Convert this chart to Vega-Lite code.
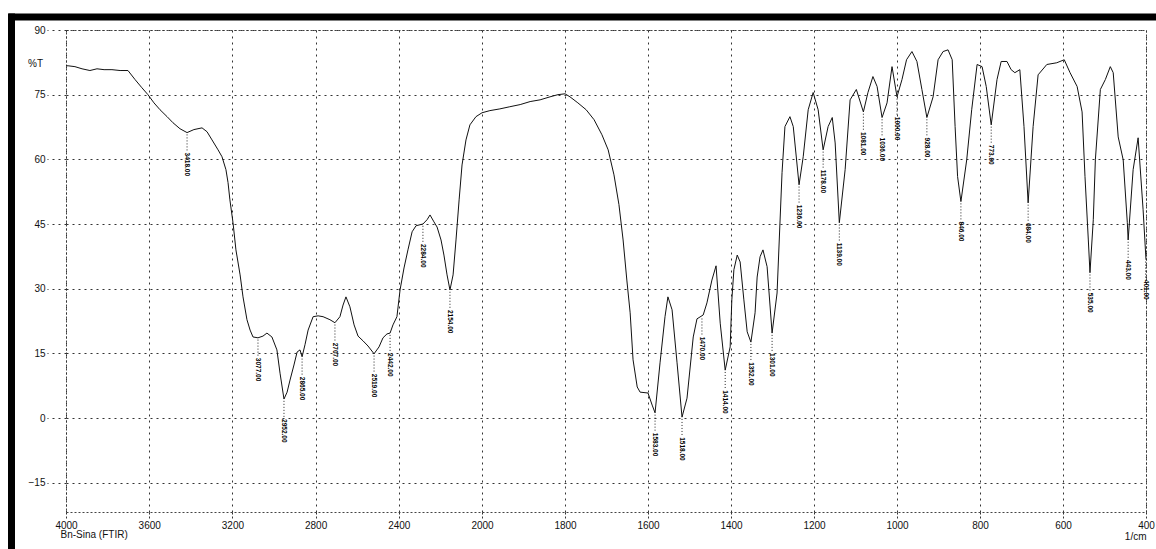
{
  "$schema": "https://vega.github.io/schema/vega-lite/v6.json",
  "width": 1080,
  "height": 482,
  "autosize": {"type": "none"},
  "padding": {"left": 66, "top": 30, "right": 10, "bottom": 37},
  "background": "white",
  "config": {
    "font": "Liberation Sans",
    "view": {"stroke": "#444", "strokeDash": [2, 2], "strokeWidth": 1}
  },
  "datasets": {
    "curve": [
      {"wn": 4000, "t": 81.7}, {"wn": 3990, "t": 81.7}, {"wn": 3957, "t": 81.5}, {"wn": 3923, "t": 81.0}, {"wn": 3885, "t": 80.6},
      {"wn": 3851, "t": 81.0}, {"wn": 3817, "t": 80.8}, {"wn": 3779, "t": 80.8}, {"wn": 3740, "t": 80.6}, {"wn": 3702, "t": 80.6},
      {"wn": 3668, "t": 78.5}, {"wn": 3635, "t": 76.6}, {"wn": 3606, "t": 75.0}, {"wn": 3577, "t": 73.1}, {"wn": 3548, "t": 71.5},
      {"wn": 3514, "t": 69.9}, {"wn": 3486, "t": 68.5}, {"wn": 3452, "t": 67.1}, {"wn": 3418, "t": 66.2}, {"wn": 3385, "t": 66.9},
      {"wn": 3346, "t": 67.3}, {"wn": 3322, "t": 66.4}, {"wn": 3298, "t": 64.5}, {"wn": 3269, "t": 62.2}, {"wn": 3250, "t": 60.6},
      {"wn": 3231, "t": 57.6}, {"wn": 3221, "t": 54.6}, {"wn": 3212, "t": 50.6}, {"wn": 3197, "t": 45.3}, {"wn": 3183, "t": 39.0},
      {"wn": 3163, "t": 33.2}, {"wn": 3149, "t": 28.1}, {"wn": 3130, "t": 22.8}, {"wn": 3115, "t": 20.4}, {"wn": 3101, "t": 18.8},
      {"wn": 3077, "t": 18.6}, {"wn": 3053, "t": 19.0}, {"wn": 3034, "t": 19.7}, {"wn": 3010, "t": 18.8}, {"wn": 2986, "t": 15.8},
      {"wn": 2971, "t": 10.4}, {"wn": 2952, "t": 4.4}, {"wn": 2937, "t": 6.0}, {"wn": 2923, "t": 8.8}, {"wn": 2904, "t": 12.3},
      {"wn": 2889, "t": 15.3}, {"wn": 2875, "t": 15.8}, {"wn": 2865, "t": 14.2}, {"wn": 2851, "t": 17.0}, {"wn": 2836, "t": 20.4},
      {"wn": 2812, "t": 23.5}, {"wn": 2788, "t": 23.7}, {"wn": 2764, "t": 23.5}, {"wn": 2731, "t": 22.8}, {"wn": 2707, "t": 22.1},
      {"wn": 2683, "t": 23.5}, {"wn": 2668, "t": 26.2}, {"wn": 2654, "t": 28.1}, {"wn": 2635, "t": 25.8}, {"wn": 2615, "t": 21.6},
      {"wn": 2596, "t": 19.0}, {"wn": 2572, "t": 17.9}, {"wn": 2548, "t": 16.7}, {"wn": 2519, "t": 14.9}, {"wn": 2495, "t": 16.5},
      {"wn": 2476, "t": 18.6}, {"wn": 2457, "t": 19.5}, {"wn": 2442, "t": 19.7}, {"wn": 2428, "t": 21.6}, {"wn": 2409, "t": 23.5},
      {"wn": 2394, "t": 29.7}, {"wn": 2375, "t": 34.8}, {"wn": 2356, "t": 39.0}, {"wn": 2336, "t": 43.2}, {"wn": 2317, "t": 44.6},
      {"wn": 2284, "t": 45.0}, {"wn": 2264, "t": 46.0}, {"wn": 2250, "t": 47.1}, {"wn": 2231, "t": 45.5}, {"wn": 2216, "t": 44.3},
      {"wn": 2197, "t": 41.3}, {"wn": 2183, "t": 37.8}, {"wn": 2168, "t": 33.2}, {"wn": 2154, "t": 29.7}, {"wn": 2139, "t": 33.2},
      {"wn": 2125, "t": 41.3}, {"wn": 2110, "t": 50.6}, {"wn": 2096, "t": 58.7}, {"wn": 2077, "t": 64.5}, {"wn": 2058, "t": 68.0},
      {"wn": 2029, "t": 69.9}, {"wn": 2000, "t": 70.8}, {"wn": 1981, "t": 71.3}, {"wn": 1957, "t": 71.7}, {"wn": 1933, "t": 72.2},
      {"wn": 1908, "t": 72.7}, {"wn": 1884, "t": 73.4}, {"wn": 1860, "t": 73.8}, {"wn": 1836, "t": 74.5}, {"wn": 1817, "t": 75.0},
      {"wn": 1800, "t": 75.2}, {"wn": 1788, "t": 74.5}, {"wn": 1769, "t": 73.1}, {"wn": 1749, "t": 71.5}, {"wn": 1730, "t": 69.2},
      {"wn": 1711, "t": 65.7}, {"wn": 1696, "t": 62.2}, {"wn": 1682, "t": 56.4}, {"wn": 1670, "t": 49.5}, {"wn": 1660, "t": 41.3},
      {"wn": 1651, "t": 32.0}, {"wn": 1643, "t": 24.4}, {"wn": 1636, "t": 13.5}, {"wn": 1626, "t": 7.2}, {"wn": 1619, "t": 6.0},
      {"wn": 1600, "t": 5.8}, {"wn": 1590, "t": 3.0}, {"wn": 1583, "t": 1.2}, {"wn": 1571, "t": 12.8}, {"wn": 1559, "t": 23.5},
      {"wn": 1552, "t": 28.1}, {"wn": 1542, "t": 25.1}, {"wn": 1530, "t": 12.8}, {"wn": 1518, "t": 0.2}, {"wn": 1506, "t": 4.6},
      {"wn": 1491, "t": 18.8}, {"wn": 1482, "t": 23.0}, {"wn": 1467, "t": 23.9}, {"wn": 1458, "t": 26.7}, {"wn": 1446, "t": 32.0},
      {"wn": 1436, "t": 35.3}, {"wn": 1426, "t": 22.0}, {"wn": 1414, "t": 11.1}, {"wn": 1402, "t": 16.5}, {"wn": 1398, "t": 27.4},
      {"wn": 1393, "t": 34.4}, {"wn": 1385, "t": 37.8}, {"wn": 1378, "t": 36.2}, {"wn": 1369, "t": 27.4}, {"wn": 1361, "t": 20.0},
      {"wn": 1352, "t": 17.6}, {"wn": 1342, "t": 24.4}, {"wn": 1337, "t": 32.7}, {"wn": 1330, "t": 37.4}, {"wn": 1323, "t": 39.0},
      {"wn": 1313, "t": 35.1}, {"wn": 1301, "t": 19.7}, {"wn": 1289, "t": 29.0}, {"wn": 1277, "t": 56.9}, {"wn": 1270, "t": 67.6},
      {"wn": 1258, "t": 69.9}, {"wn": 1250, "t": 67.6}, {"wn": 1236, "t": 54.1}, {"wn": 1226, "t": 60.6}, {"wn": 1214, "t": 71.5},
      {"wn": 1202, "t": 75.5}, {"wn": 1190, "t": 71.5}, {"wn": 1178, "t": 62.2}, {"wn": 1166, "t": 67.6}, {"wn": 1156, "t": 69.7},
      {"wn": 1149, "t": 63.8}, {"wn": 1139, "t": 45.3}, {"wn": 1125, "t": 57.6}, {"wn": 1113, "t": 73.8}, {"wn": 1098, "t": 76.2},
      {"wn": 1081, "t": 71.0}, {"wn": 1070, "t": 75.5}, {"wn": 1058, "t": 79.2}, {"wn": 1048, "t": 76.9}, {"wn": 1036, "t": 69.7},
      {"wn": 1024, "t": 73.1}, {"wn": 1012, "t": 81.5}, {"wn": 1000, "t": 74.5}, {"wn": 988, "t": 78.5}, {"wn": 977, "t": 83.1},
      {"wn": 964, "t": 85.0}, {"wn": 952, "t": 82.7}, {"wn": 940, "t": 76.2}, {"wn": 928, "t": 69.7}, {"wn": 913, "t": 74.5},
      {"wn": 901, "t": 83.1}, {"wn": 889, "t": 85.0}, {"wn": 877, "t": 85.4}, {"wn": 867, "t": 83.1}, {"wn": 860, "t": 67.6},
      {"wn": 854, "t": 56.0}, {"wn": 846, "t": 50.2}, {"wn": 832, "t": 59.9}, {"wn": 820, "t": 71.5}, {"wn": 807, "t": 82.0},
      {"wn": 795, "t": 81.5}, {"wn": 785, "t": 76.9}, {"wn": 773, "t": 68.0}, {"wn": 759, "t": 78.5}, {"wn": 749, "t": 82.7},
      {"wn": 735, "t": 82.7}, {"wn": 725, "t": 80.8}, {"wn": 716, "t": 80.1}, {"wn": 704, "t": 80.8}, {"wn": 694, "t": 67.6},
      {"wn": 684, "t": 49.9}, {"wn": 672, "t": 67.6}, {"wn": 660, "t": 79.6}, {"wn": 639, "t": 82.0}, {"wn": 615, "t": 82.4},
      {"wn": 597, "t": 83.1}, {"wn": 583, "t": 80.1}, {"wn": 566, "t": 76.9}, {"wn": 554, "t": 71.0}, {"wn": 547, "t": 56.0},
      {"wn": 539, "t": 41.3}, {"wn": 535, "t": 33.7}, {"wn": 527, "t": 46.0}, {"wn": 522, "t": 59.9}, {"wn": 510, "t": 76.2},
      {"wn": 498, "t": 78.5}, {"wn": 486, "t": 81.5}, {"wn": 479, "t": 80.1}, {"wn": 467, "t": 65.2}, {"wn": 455, "t": 59.9},
      {"wn": 445, "t": 45.3}, {"wn": 443, "t": 41.3}, {"wn": 431, "t": 57.6}, {"wn": 419, "t": 65.0}, {"wn": 407, "t": 48.3},
      {"wn": 400, "t": 36.7}
    ],
    "peaks": [
      {"wn": 3418, "t": 66.2}, {"wn": 3077, "t": 18.6}, {"wn": 2952, "t": 4.4}, {"wn": 2865, "t": 14.2}, {"wn": 2707, "t": 22.1},
      {"wn": 2519, "t": 14.9}, {"wn": 2442, "t": 19.7}, {"wn": 2284, "t": 45.0}, {"wn": 2154, "t": 29.7}, {"wn": 1583, "t": 1.2},
      {"wn": 1518, "t": 0.2}, {"wn": 1470, "t": 23.5}, {"wn": 1414, "t": 11.1}, {"wn": 1352, "t": 17.6}, {"wn": 1301, "t": 19.7},
      {"wn": 1236, "t": 54.1}, {"wn": 1178, "t": 62.2}, {"wn": 1139, "t": 45.3}, {"wn": 1081, "t": 71.0}, {"wn": 1036, "t": 69.7},
      {"wn": 1000, "t": 74.5}, {"wn": 928, "t": 69.7}, {"wn": 846, "t": 50.2}, {"wn": 773, "t": 68.0}, {"wn": 684, "t": 49.9},
      {"wn": 535, "t": 33.7}, {"wn": 443, "t": 41.3}, {"wn": 401, "t": 36.7}
    ]
  },
  "layer": [
    {
      "layer": [
        {
          "data": {"name": "curve"},
          "mark": {"type": "line", "color": "#111", "strokeWidth": 1, "interpolate": "linear"},
          "encoding": {
            "x": {
              "field": "wn", "type": "quantitative",
              "scale": {"domain": [4000, 2000, 400], "range": [0, 416, 1080], "nice": false, "zero": false},
              "axis": {
                "orient": "bottom",
                "values": [4000, 3600, 3200, 2800, 2400, 2000, 1800, 1600, 1400, 1200, 1000, 800, 600, 400],
                "format": "d",
                "labelFlush": false,
                "grid": true, "gridColor": "#333", "gridDash": [2, 4], "gridWidth": 1, "gridOpacity": 1,
                "domain": false,
                "ticks": true, "tickSize": 6, "tickColor": "#333", "tickDash": [2, 2], "tickWidth": 1,
                "labelFontSize": 10, "labelColor": "#111", "labelPadding": 2, "labelFont": "Liberation Sans",
                "title": "1/cm", "titleAnchor": "end", "titleAlign": "right", "titleFontSize": 10, "titleFontWeight": "normal",
                "titleColor": "#111", "titlePadding": 1, "titleBaseline": "top", "titleFont": "Liberation Sans"
              }
            },
            "y": {
              "field": "t", "type": "quantitative",
              "scale": {"domain": [-21.8, 90], "nice": false, "zero": false},
              "axis": {
                "orient": "left",
                "values": [-15, 0, 15, 30, 45, 60, 75, 90],
                "labelFlush": false,
                "grid": true, "gridColor": "#333", "gridDash": [2, 4], "gridWidth": 1, "gridOpacity": 1,
                "domain": false,
                "ticks": true, "tickSize": 19, "tickColor": "#333", "tickDash": [2, 4], "tickWidth": 1,
                "labelFontSize": 10, "labelColor": "#111", "labelPadding": 2, "labelFont": "Liberation Sans",
                "title": "%T", "titleAngle": 0, "titleX": -31, "titleY": 33, "titleAlign": "center", "titleBaseline": "middle",
                "titleFontSize": 10, "titleFontWeight": "normal", "titleColor": "#111", "titleFont": "Liberation Sans"
              }
            }
          }
        },
        {
          "data": {"name": "peaks"},
          "mark": {"type": "point", "shape": "M0,0.2L0,2", "size": 324, "filled": false, "stroke": "#222", "strokeWidth": 1, "strokeDash": [1, 2], "opacity": 1},
          "encoding": {
            "x": {"field": "wn", "type": "quantitative"},
            "y": {"field": "t", "type": "quantitative"}
          }
        },
        {
          "data": {"name": "peaks"},
          "mark": {"type": "text", "angle": 90, "align": "left", "baseline": "middle", "dx": 20, "fontSize": 6.5, "fontWeight": "bold", "font": "Liberation Sans", "color": "#000"},
          "encoding": {
            "x": {"field": "wn", "type": "quantitative"},
            "y": {"field": "t", "type": "quantitative"},
            "text": {"field": "wn", "type": "quantitative", "format": ".2f"}
          }
        }
      ]
    },
    {
      "data": {"name": "peaks"},
      "mark": {"type": "point", "opacity": 0},
      "encoding": {
        "x": {
          "field": "wn", "type": "quantitative",
          "scale": {"domain": [4000, 400], "range": [-58, 1090], "nice": false, "zero": false},
          "axis": {
            "orient": "top", "offset": 13.5, "domainWidth": 7, "domainColor": "#000", "labels": false, "ticks": false, "grid": false,
            "title": "Bn-Sina (FTIR)", "titleX": -6, "titleY": 512.5, "titleAlign": "left", "titleBaseline": "top", "titleAngle": 0,
            "titleFontSize": 10, "titleFontWeight": "normal", "titleColor": "#111", "titleFont": "Liberation Sans"
          }
        },
        "y": {
          "field": "t", "type": "quantitative",
          "scale": {"domain": [-21.8, 90], "range": [519, -17], "nice": false, "zero": false},
          "axis": {"orient": "left", "offset": 55, "domainWidth": 7, "domainColor": "#000", "labels": false, "ticks": false, "grid": false, "title": null}
        }
      }
    }
  ],
  "resolve": {"scale": {"x": "independent", "y": "independent"}, "axis": {"x": "independent", "y": "independent"}}
}
